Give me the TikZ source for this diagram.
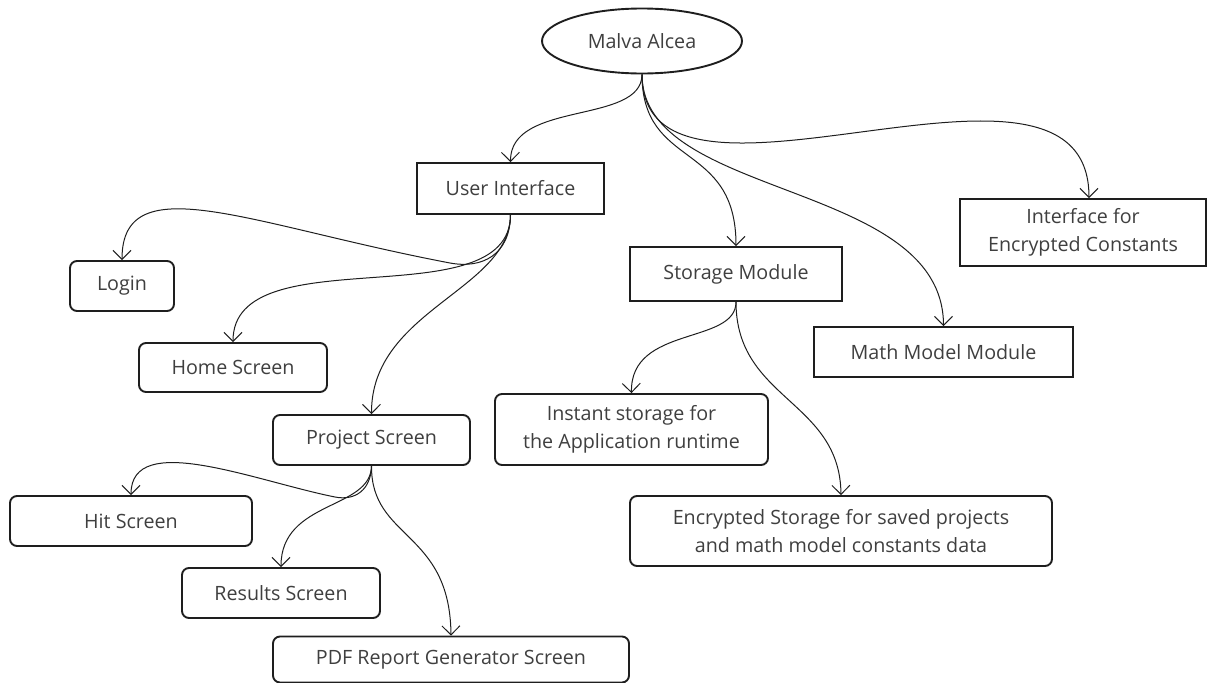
\documentclass[tikz,border=0pt]{standalone}
\usepackage{fontspec}
\setmainfont{Open Sans}
\usetikzlibrary{arrows.meta,shapes.geometric}
\definecolor{txt}{HTML}{3F3F3F}
\definecolor{ln}{HTML}{1E1E1E}
\begin{document}
\begin{tikzpicture}[x=1pt,y=-1pt,
  every node/.style={font=\fontsize{19.7}{27.5}\selectfont, text=txt, align=center, inner sep=0pt},
  sq/.style={draw=ln, line width=1.9pt, rectangle},
  rd/.style={draw=ln, line width=1.9pt, rectangle, rounded corners=7pt},
  conn/.style={draw=ln, line width=1pt, -{Straight Barb[length=9pt,width=18pt]}}]
\useasboundingbox (0,0) rectangle (1211,683);
% nodes
\node[ellipse, draw=ln, line width=1.9pt, minimum width=200pt, minimum height=65pt] (root) at (642,41) {Malva Alcea};
\node[sq, minimum width=187pt, minimum height=51pt] (ui) at (510.5,188.5) {User Interface};
\node[rd, minimum width=104pt, minimum height=50pt] (login) at (122,286) {Login};
\node[rd, minimum width=188pt, minimum height=49pt] (home) at (233,367.5) {Home Screen};
\node[rd, minimum width=197pt, minimum height=50pt] (proj) at (371.5,440) {Project Screen};
\node[rd, minimum width=242pt, minimum height=50pt] (hit) at (131,521) {Hit Screen};
\node[rd, minimum width=198pt, minimum height=50pt] (res) at (281,593) {Results Screen};
\node[rd, minimum width=356pt, minimum height=46pt] (pdf) at (451,659.5) {PDF Report Generator Screen};
\node[sq, minimum width=212pt, minimum height=54pt] (stor) at (736,274) {Storage Module};
\node[sq, minimum width=259pt, minimum height=50pt] (math) at (943.5,352) {Math Model Module};
\node[sq, minimum width=246pt, minimum height=67pt] (ifc) at (1083,232.5) {Interface for\\Encrypted Constants};
\node[rd, minimum width=273pt, minimum height=71pt] (inst) at (631.5,429.5) {Instant storage for\\the Application runtime};
\node[rd, minimum width=422pt, minimum height=70pt] (enc) at (841,531) {Encrypted Storage for saved projects\\and math model constants data};
% waypoints
\coordinate (wl) at (450,263);
\coordinate (wh) at (335,497);
\coordinate (ifcin) at ([xshift=6pt]ifc.north);
% connectors from root
\draw[conn] (root.south) .. controls (642,125) and (510,100) .. (ui.north);
\draw[conn] (root.south) .. controls (642,250) and (1089,10) .. (ifcin);
\draw[conn] (root.south) .. controls (642,170) and (736,140) .. (stor.north);
\draw[conn] (root.south) .. controls (642,200) and (943,180) .. (math.north);
% from user interface
\draw[conn] (ui.south) .. controls (510,255) and (482,269) .. (wl) .. controls (250,225) and (122,165) .. (login.north);
\draw[conn] (ui.south) .. controls (510,320) and (233,235) .. (home.north);
\draw[conn] (ui.south) .. controls (510,290) and (371,310) .. (proj.north);
% from project screen
\draw[conn] (proj.south) .. controls (371,490) and (355,501) .. (wh) .. controls (255,481) and (131,430) .. (hit.north);
\draw[conn] (proj.south) .. controls (371,510) and (281,500) .. (res.north);
\draw[conn] (proj.south) .. controls (371,540) and (450,530) .. (pdf.north);
% from storage module
\draw[conn] (stor.south) .. controls (736,345) and (630,325) .. (inst.north);
\draw[conn] (stor.south) .. controls (736,400) and (840,400) .. (enc.north);
\end{tikzpicture}
\end{document}
